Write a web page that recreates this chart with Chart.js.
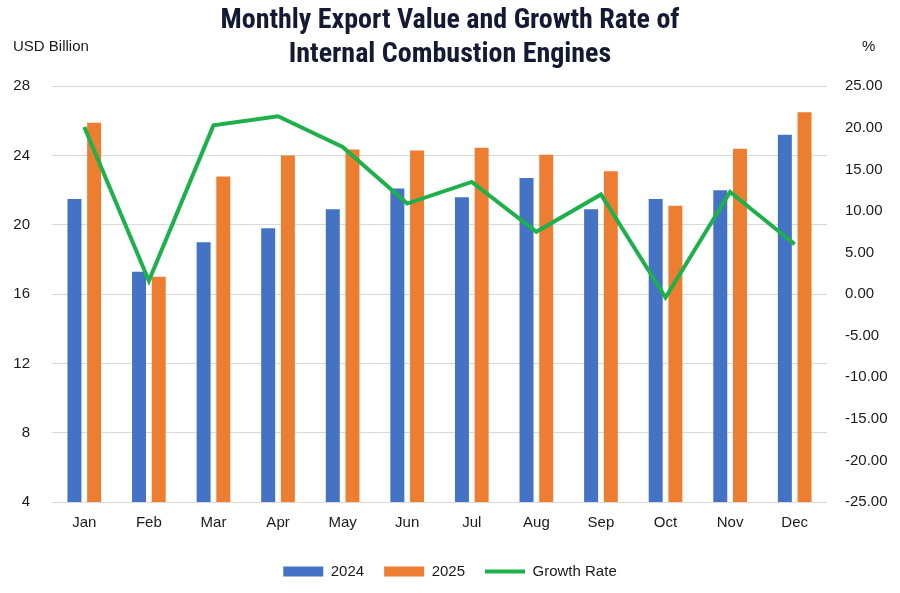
<!DOCTYPE html>
<html lang="en">
<head>
    <meta charset="UTF-8">
    <title>Internal Combustion Engines Export</title>
    <script src="https://cdn.jsdelivr.net/npm/chart.js@4.4.1/dist/chart.umd.min.js"></script>
    <style>
        body { margin: 0; background: #ffffff; }
        .chartbox { width: 900px; height: 593px; }
    </style>
</head>
<body>
<div class="chartbox">
    <canvas id="myChart" width="900" height="593"></canvas>
</div>
<script>
// data
var months = ['Jan', 'Feb', 'Mar', 'Apr', 'May', 'Jun', 'Jul', 'Aug', 'Sep', 'Oct', 'Nov', 'Dec'];
var export2024 = [21.5, 17.3, 19.0, 19.8, 20.9, 22.1, 21.6, 22.7, 20.9, 21.5, 22.0, 25.2];
var export2025 = [25.9, 17.0, 22.8, 24.0, 24.35, 24.3, 24.45, 24.05, 23.1, 21.1, 24.4, 26.5];
var growthRate = [20.1, 1.6, 20.3, 21.4, 17.7, 10.9, 13.5, 7.5, 12.0, -0.4, 12.3, 6.0];

var narrowFont = "'Liberation Sans Narrow', 'Arial Narrow', 'Roboto Condensed', 'DejaVu Sans Condensed', sans-serif";
var plainFont = "'Liberation Sans', Arial, Helvetica, sans-serif";

// unit labels above the two axes
var unitLabels = {
    id: 'unitLabels',
    afterDraw: function(chart) {
        var ctx = chart.ctx;
        ctx.save();
        ctx.fillStyle = '#1a1a1a';
        ctx.font = "15px " + plainFont;
        ctx.textBaseline = 'middle';
        ctx.textAlign = 'left';
        ctx.fillText('USD Billion', 13, 47);
        ctx.fillText('%', 862, 47);
        ctx.restore();
    }
};

var ctx = document.getElementById('myChart').getContext('2d');
var myChart = new Chart(ctx, {
    type: 'bar',
    data: {
        labels: months,
        datasets: [{
            label: '2024',
            data: export2024,
            backgroundColor: '#4472C4',
            yAxisID: 'y',
            pointStyle: 'rect',
            order: 2
        }, {
            label: '2025',
            data: export2025,
            backgroundColor: '#ED7D31',
            yAxisID: 'y',
            pointStyle: 'rect',
            order: 2
        }, {
            type: 'line',
            label: 'Growth Rate',
            data: growthRate,
            borderColor: '#1DB04B',
            backgroundColor: '#1DB04B',
            borderWidth: 4,
            pointRadius: 0,
            pointStyle: 'line',
            tension: 0,
            yAxisID: 'y1',
            order: 1
        }]
    },
    options: {
        responsive: false,
        animation: false,
        layout: { padding: { left: 0, right: 0, top: 0, bottom: 4 } },
        datasets: {
            bar: { categoryPercentage: 0.61, barPercentage: 0.71 }
        },
        plugins: {
            title: {
                display: true,
                text: ['Monthly Export Value and Growth Rate of', 'Internal Combustion Engines'],
                color: '#141a33',
                font: { family: narrowFont, size: 28, weight: 'bold', lineHeight: 1.22 },
                padding: { top: 4, bottom: 14 }
            },
            legend: {
                position: 'bottom',
                labels: {
                    usePointStyle: true,
                    pointStyleWidth: 40,
                    boxHeight: 10,
                    padding: 20,
                    color: '#1a1a1a',
                    font: { family: plainFont, size: 15 },
                    sort: function(a, b) { return a.datasetIndex - b.datasetIndex; }
                }
            },
            tooltip: { enabled: false }
        },
        scales: {
            x: {
                grid: { display: false, drawTicks: false },
                border: { display: false },
                ticks: { color: '#1a1a1a', font: { family: plainFont, size: 15 }, padding: 12 }
            },
            y: {
                position: 'left',
                min: 4,
                max: 28,
                afterFit: function(scale) { scale.width = 52; },
                ticks: { stepSize: 4, color: '#1a1a1a', font: { family: plainFont, size: 15 }, padding: 22 },
                grid: { color: '#d9d9d9', drawTicks: false },
                border: { display: false }
            },
            y1: {
                position: 'right',
                min: -25,
                max: 25,
                afterFit: function(scale) { scale.width = 73; },
                ticks: {
                    stepSize: 5,
                    color: '#1a1a1a',
                    font: { family: plainFont, size: 15 },
                    padding: 18,
                    callback: function(v) { return Number(v).toFixed(2); }
                },
                grid: { drawOnChartArea: false, drawTicks: false },
                border: { display: false }
            }
        }
    },
    plugins: [unitLabels]
});
</script>
</body>
</html>
